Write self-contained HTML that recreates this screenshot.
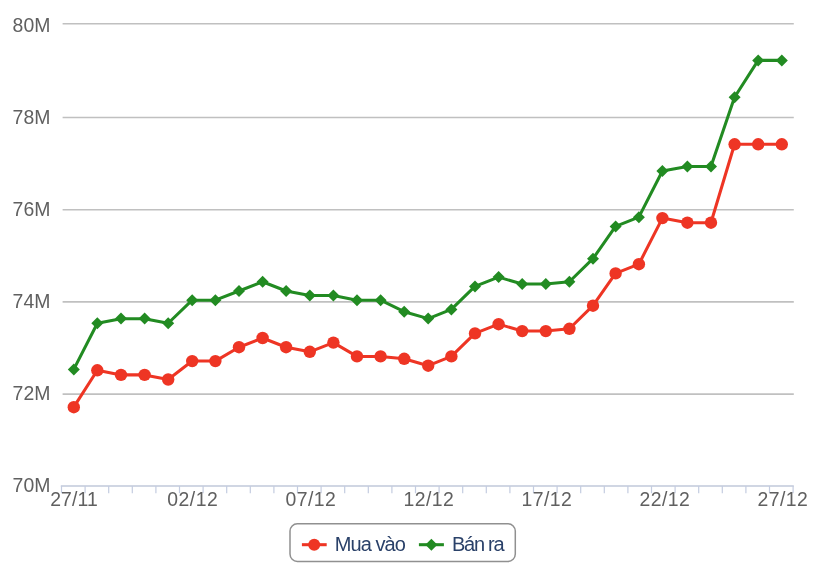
<!DOCTYPE html><html><head><meta charset="utf-8"><title>Chart</title><style>html,body{margin:0;padding:0;background:#fff}svg{display:block}text{font-family:"Liberation Sans",Arial,sans-serif}</style></head><body>
<svg width="822" height="573" viewBox="0 0 822 573">
<rect width="822" height="573" fill="#fff"/>
<path d="M 62.6 394.1 L 793.8 394.1" stroke="#c0c0c0" stroke-width="1.6" fill="none"/>
<path d="M 62.6 301.9 L 793.8 301.9" stroke="#c0c0c0" stroke-width="1.6" fill="none"/>
<path d="M 62.6 209.7 L 793.8 209.7" stroke="#c0c0c0" stroke-width="1.6" fill="none"/>
<path d="M 62.6 117.5 L 793.8 117.5" stroke="#c0c0c0" stroke-width="1.6" fill="none"/>
<path d="M 62.6 23.7 L 793.8 23.7" stroke="#c0c0c0" stroke-width="1.6" fill="none"/>
<path d="M 60.8 486.0 L 793.8 486.0" stroke="#c0c8da" stroke-width="1.6" fill="none"/>
<path d="M 61.5 486.0 L 61.5 493.2" stroke="#c4cce0" stroke-width="1.2" fill="none"/>
<path d="M 85.1 486.0 L 85.1 493.2" stroke="#c4cce0" stroke-width="1.2" fill="none"/>
<path d="M 108.7 486.0 L 108.7 493.2" stroke="#c4cce0" stroke-width="1.2" fill="none"/>
<path d="M 132.3 486.0 L 132.3 493.2" stroke="#c4cce0" stroke-width="1.2" fill="none"/>
<path d="M 155.9 486.0 L 155.9 493.2" stroke="#c4cce0" stroke-width="1.2" fill="none"/>
<path d="M 179.5 486.0 L 179.5 493.2" stroke="#c4cce0" stroke-width="1.2" fill="none"/>
<path d="M 203.1 486.0 L 203.1 493.2" stroke="#c4cce0" stroke-width="1.2" fill="none"/>
<path d="M 226.7 486.0 L 226.7 493.2" stroke="#c4cce0" stroke-width="1.2" fill="none"/>
<path d="M 250.3 486.0 L 250.3 493.2" stroke="#c4cce0" stroke-width="1.2" fill="none"/>
<path d="M 273.9 486.0 L 273.9 493.2" stroke="#c4cce0" stroke-width="1.2" fill="none"/>
<path d="M 297.5 486.0 L 297.5 493.2" stroke="#c4cce0" stroke-width="1.2" fill="none"/>
<path d="M 321.1 486.0 L 321.1 493.2" stroke="#c4cce0" stroke-width="1.2" fill="none"/>
<path d="M 344.7 486.0 L 344.7 493.2" stroke="#c4cce0" stroke-width="1.2" fill="none"/>
<path d="M 368.3 486.0 L 368.3 493.2" stroke="#c4cce0" stroke-width="1.2" fill="none"/>
<path d="M 391.9 486.0 L 391.9 493.2" stroke="#c4cce0" stroke-width="1.2" fill="none"/>
<path d="M 415.5 486.0 L 415.5 493.2" stroke="#c4cce0" stroke-width="1.2" fill="none"/>
<path d="M 439.1 486.0 L 439.1 493.2" stroke="#c4cce0" stroke-width="1.2" fill="none"/>
<path d="M 462.7 486.0 L 462.7 493.2" stroke="#c4cce0" stroke-width="1.2" fill="none"/>
<path d="M 486.3 486.0 L 486.3 493.2" stroke="#c4cce0" stroke-width="1.2" fill="none"/>
<path d="M 509.9 486.0 L 509.9 493.2" stroke="#c4cce0" stroke-width="1.2" fill="none"/>
<path d="M 533.5 486.0 L 533.5 493.2" stroke="#c4cce0" stroke-width="1.2" fill="none"/>
<path d="M 557.1 486.0 L 557.1 493.2" stroke="#c4cce0" stroke-width="1.2" fill="none"/>
<path d="M 580.7 486.0 L 580.7 493.2" stroke="#c4cce0" stroke-width="1.2" fill="none"/>
<path d="M 604.3 486.0 L 604.3 493.2" stroke="#c4cce0" stroke-width="1.2" fill="none"/>
<path d="M 627.9 486.0 L 627.9 493.2" stroke="#c4cce0" stroke-width="1.2" fill="none"/>
<path d="M 651.5 486.0 L 651.5 493.2" stroke="#c4cce0" stroke-width="1.2" fill="none"/>
<path d="M 675.1 486.0 L 675.1 493.2" stroke="#c4cce0" stroke-width="1.2" fill="none"/>
<path d="M 698.7 486.0 L 698.7 493.2" stroke="#c4cce0" stroke-width="1.2" fill="none"/>
<path d="M 722.3 486.0 L 722.3 493.2" stroke="#c4cce0" stroke-width="1.2" fill="none"/>
<path d="M 745.9 486.0 L 745.9 493.2" stroke="#c4cce0" stroke-width="1.2" fill="none"/>
<path d="M 769.5 486.0 L 769.5 493.2" stroke="#c4cce0" stroke-width="1.2" fill="none"/>
<path d="M 793.1 486.0 L 793.1 493.2" stroke="#c4cce0" stroke-width="1.2" fill="none"/>
<text x="12.6" y="492.3" textLength="37.9" lengthAdjust="spacing" font-size="19.4" fill="#606060">70M</text>
<text x="12.6" y="400.2" textLength="37.9" lengthAdjust="spacing" font-size="19.4" fill="#606060">72M</text>
<text x="12.6" y="308.1" textLength="37.9" lengthAdjust="spacing" font-size="19.4" fill="#606060">74M</text>
<text x="12.6" y="216.0" textLength="37.9" lengthAdjust="spacing" font-size="19.4" fill="#606060">76M</text>
<text x="12.6" y="123.9" textLength="37.9" lengthAdjust="spacing" font-size="19.4" fill="#606060">78M</text>
<text x="12.6" y="31.8" textLength="37.9" lengthAdjust="spacing" font-size="19.4" fill="#606060">80M</text>
<text x="50.2" y="506.4" textLength="47.5" lengthAdjust="spacing" font-size="19.4" fill="#606060">27/11</text>
<text x="167.3" y="506.4" textLength="50.5" lengthAdjust="spacing" font-size="19.4" fill="#606060">02/12</text>
<text x="285.4" y="506.4" textLength="50.5" lengthAdjust="spacing" font-size="19.4" fill="#606060">07/12</text>
<text x="403.4" y="506.4" textLength="50.5" lengthAdjust="spacing" font-size="19.4" fill="#606060">12/12</text>
<text x="521.4" y="506.4" textLength="50.5" lengthAdjust="spacing" font-size="19.4" fill="#606060">17/12</text>
<text x="639.4" y="506.4" textLength="50.5" lengthAdjust="spacing" font-size="19.4" fill="#606060">22/12</text>
<text x="757.4" y="506.4" textLength="50.5" lengthAdjust="spacing" font-size="19.4" fill="#606060">27/12</text>
<path d="M 73.75 407.18 L 97.35 370.28 L 120.95 374.89 L 144.55 374.89 L 168.15 379.50 L 192.15 361.06 L 215.35 361.06 L 238.95 347.22 L 262.55 338.00 L 286.15 347.22 L 309.75 351.83 L 333.35 342.61 L 356.95 356.44 L 380.55 356.44 L 404.15 358.75 L 428.25 365.67 L 451.35 356.44 L 474.95 333.38 L 498.55 324.16 L 522.15 331.08 L 545.75 331.08 L 569.35 328.77 L 592.95 305.71 L 615.55 273.43 L 638.85 264.20 L 662.40 218.08 L 687.35 222.70 L 710.95 222.70 L 734.55 144.29 L 758.15 144.29 L 781.75 144.29" stroke="#ee3524" stroke-width="3.05" fill="none" stroke-linejoin="round" stroke-linecap="round"/>
<circle cx="73.8" cy="407.2" r="6.2" fill="#ee3524"/>
<circle cx="97.3" cy="370.3" r="6.2" fill="#ee3524"/>
<circle cx="121.0" cy="374.9" r="6.2" fill="#ee3524"/>
<circle cx="144.6" cy="374.9" r="6.2" fill="#ee3524"/>
<circle cx="168.2" cy="379.5" r="6.2" fill="#ee3524"/>
<circle cx="192.2" cy="361.1" r="6.2" fill="#ee3524"/>
<circle cx="215.4" cy="361.1" r="6.2" fill="#ee3524"/>
<circle cx="239.0" cy="347.2" r="6.2" fill="#ee3524"/>
<circle cx="262.6" cy="338.0" r="6.2" fill="#ee3524"/>
<circle cx="286.1" cy="347.2" r="6.2" fill="#ee3524"/>
<circle cx="309.8" cy="351.8" r="6.2" fill="#ee3524"/>
<circle cx="333.4" cy="342.6" r="6.2" fill="#ee3524"/>
<circle cx="357.0" cy="356.4" r="6.2" fill="#ee3524"/>
<circle cx="380.6" cy="356.4" r="6.2" fill="#ee3524"/>
<circle cx="404.2" cy="358.8" r="6.2" fill="#ee3524"/>
<circle cx="428.2" cy="365.7" r="6.2" fill="#ee3524"/>
<circle cx="451.4" cy="356.4" r="6.2" fill="#ee3524"/>
<circle cx="475.0" cy="333.4" r="6.2" fill="#ee3524"/>
<circle cx="498.6" cy="324.2" r="6.2" fill="#ee3524"/>
<circle cx="522.2" cy="331.1" r="6.2" fill="#ee3524"/>
<circle cx="545.8" cy="331.1" r="6.2" fill="#ee3524"/>
<circle cx="569.4" cy="328.8" r="6.2" fill="#ee3524"/>
<circle cx="593.0" cy="305.7" r="6.2" fill="#ee3524"/>
<circle cx="615.6" cy="273.4" r="6.2" fill="#ee3524"/>
<circle cx="638.9" cy="264.2" r="6.2" fill="#ee3524"/>
<circle cx="662.4" cy="218.1" r="6.2" fill="#ee3524"/>
<circle cx="687.4" cy="222.7" r="6.2" fill="#ee3524"/>
<circle cx="711.0" cy="222.7" r="6.2" fill="#ee3524"/>
<circle cx="734.6" cy="144.3" r="6.2" fill="#ee3524"/>
<circle cx="758.2" cy="144.3" r="6.2" fill="#ee3524"/>
<circle cx="781.8" cy="144.3" r="6.2" fill="#ee3524"/>
<path d="M 73.75 369.38 L 97.35 323.26 L 120.95 318.65 L 144.55 318.65 L 168.15 323.26 L 192.15 300.20 L 215.35 300.20 L 238.95 290.98 L 262.55 281.75 L 286.15 290.98 L 309.75 295.59 L 333.35 295.59 L 356.95 300.20 L 380.55 300.20 L 404.15 311.73 L 428.25 318.65 L 451.35 309.42 L 474.95 286.36 L 498.55 277.14 L 522.15 284.06 L 545.75 284.06 L 569.35 281.75 L 592.95 258.69 L 615.55 226.41 L 638.85 217.18 L 662.40 171.06 L 687.35 166.45 L 710.95 166.45 L 734.55 97.27 L 758.15 60.38 L 781.75 60.38" stroke="#228b22" stroke-width="3.05" fill="none" stroke-linejoin="round" stroke-linecap="round"/>
<path d="M 73.8 363.4 L 79.8 369.4 L 73.8 375.4 L 67.8 369.4 Z" fill="#228b22"/>
<path d="M 97.3 317.3 L 103.3 323.3 L 97.3 329.3 L 91.3 323.3 Z" fill="#228b22"/>
<path d="M 121.0 312.6 L 127.0 318.6 L 121.0 324.6 L 115.0 318.6 Z" fill="#228b22"/>
<path d="M 144.6 312.6 L 150.6 318.6 L 144.6 324.6 L 138.6 318.6 Z" fill="#228b22"/>
<path d="M 168.2 317.3 L 174.2 323.3 L 168.2 329.3 L 162.2 323.3 Z" fill="#228b22"/>
<path d="M 192.2 294.2 L 198.2 300.2 L 192.2 306.2 L 186.2 300.2 Z" fill="#228b22"/>
<path d="M 215.4 294.2 L 221.4 300.2 L 215.4 306.2 L 209.4 300.2 Z" fill="#228b22"/>
<path d="M 239.0 285.0 L 245.0 291.0 L 239.0 297.0 L 233.0 291.0 Z" fill="#228b22"/>
<path d="M 262.6 275.8 L 268.6 281.8 L 262.6 287.8 L 256.6 281.8 Z" fill="#228b22"/>
<path d="M 286.1 285.0 L 292.1 291.0 L 286.1 297.0 L 280.1 291.0 Z" fill="#228b22"/>
<path d="M 309.8 289.6 L 315.8 295.6 L 309.8 301.6 L 303.8 295.6 Z" fill="#228b22"/>
<path d="M 333.4 289.6 L 339.4 295.6 L 333.4 301.6 L 327.4 295.6 Z" fill="#228b22"/>
<path d="M 357.0 294.2 L 363.0 300.2 L 357.0 306.2 L 351.0 300.2 Z" fill="#228b22"/>
<path d="M 380.6 294.2 L 386.6 300.2 L 380.6 306.2 L 374.6 300.2 Z" fill="#228b22"/>
<path d="M 404.2 305.7 L 410.2 311.7 L 404.2 317.7 L 398.2 311.7 Z" fill="#228b22"/>
<path d="M 428.2 312.6 L 434.2 318.6 L 428.2 324.6 L 422.2 318.6 Z" fill="#228b22"/>
<path d="M 451.4 303.4 L 457.4 309.4 L 451.4 315.4 L 445.4 309.4 Z" fill="#228b22"/>
<path d="M 475.0 280.4 L 481.0 286.4 L 475.0 292.4 L 469.0 286.4 Z" fill="#228b22"/>
<path d="M 498.6 271.1 L 504.6 277.1 L 498.6 283.1 L 492.6 277.1 Z" fill="#228b22"/>
<path d="M 522.2 278.1 L 528.2 284.1 L 522.2 290.1 L 516.2 284.1 Z" fill="#228b22"/>
<path d="M 545.8 278.1 L 551.8 284.1 L 545.8 290.1 L 539.8 284.1 Z" fill="#228b22"/>
<path d="M 569.4 275.8 L 575.4 281.8 L 569.4 287.8 L 563.4 281.8 Z" fill="#228b22"/>
<path d="M 593.0 252.7 L 599.0 258.7 L 593.0 264.7 L 587.0 258.7 Z" fill="#228b22"/>
<path d="M 615.6 220.4 L 621.6 226.4 L 615.6 232.4 L 609.6 226.4 Z" fill="#228b22"/>
<path d="M 638.9 211.2 L 644.9 217.2 L 638.9 223.2 L 632.9 217.2 Z" fill="#228b22"/>
<path d="M 662.4 165.1 L 668.4 171.1 L 662.4 177.1 L 656.4 171.1 Z" fill="#228b22"/>
<path d="M 687.4 160.5 L 693.4 166.5 L 687.4 172.5 L 681.4 166.5 Z" fill="#228b22"/>
<path d="M 711.0 160.5 L 717.0 166.5 L 711.0 172.5 L 705.0 166.5 Z" fill="#228b22"/>
<path d="M 734.6 91.3 L 740.6 97.3 L 734.6 103.3 L 728.6 97.3 Z" fill="#228b22"/>
<path d="M 758.2 54.4 L 764.2 60.4 L 758.2 66.4 L 752.2 60.4 Z" fill="#228b22"/>
<path d="M 781.8 54.4 L 787.8 60.4 L 781.8 66.4 L 775.8 60.4 Z" fill="#228b22"/>
<rect x="290.0" y="523.8" width="225.3" height="37.6" rx="7.3" ry="7.3" fill="#fff" stroke="#909090" stroke-width="1.5"/>
<path d="M 301.9 544.7 L 326.7 544.7" stroke="#ee3524" stroke-width="3.05" fill="none"/>
<circle cx="314.2" cy="544.7" r="6" fill="#ee3524"/>
<text x="334.7" y="550.8" textLength="71.2" lengthAdjust="spacing" font-size="20" fill="#2a4169">Mua vào</text>
<path d="M 418.9 544.7 L 443.9 544.7" stroke="#228b22" stroke-width="3.05" fill="none"/>
<path d="M 431.4 538.7 L 437.4 544.7 L 431.4 550.7 L 425.4 544.7 Z" fill="#228b22"/>
<text x="452.0" y="550.8" textLength="52.6" lengthAdjust="spacing" font-size="20" fill="#2a4169">Bán ra</text>
</svg></body></html>
